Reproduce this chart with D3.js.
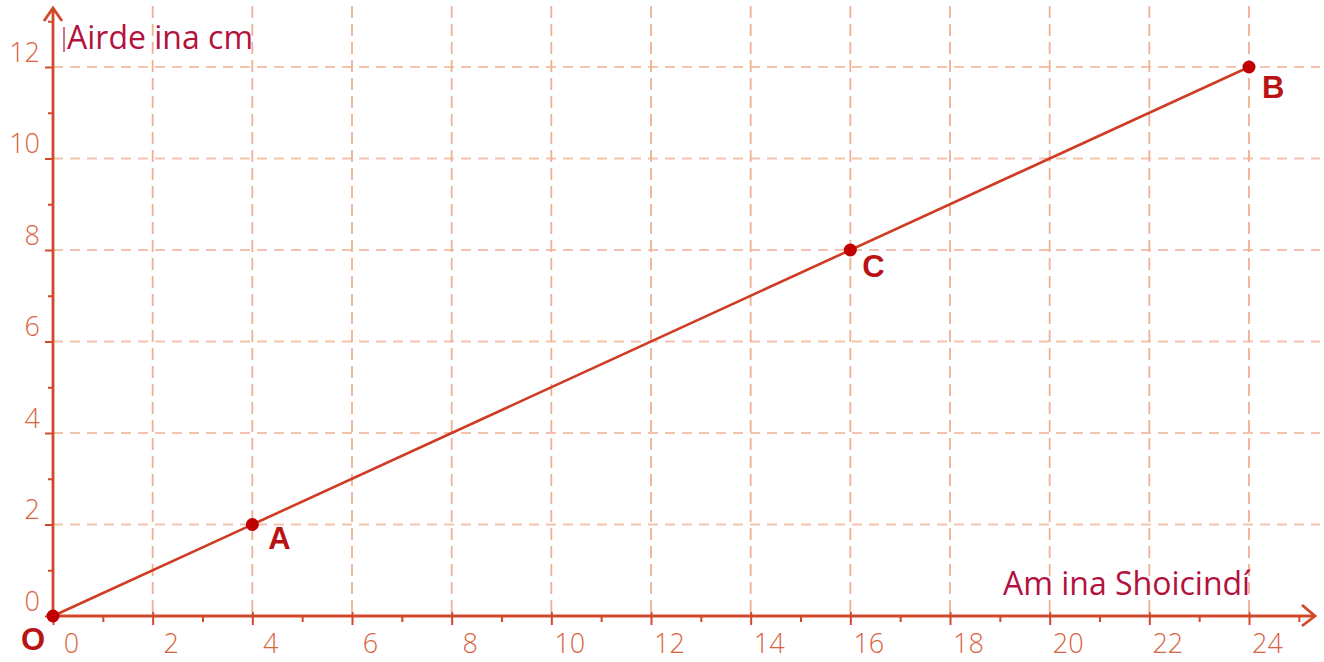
<!DOCTYPE html>
<html>
<head>
<meta charset="utf-8">
<script src="https://cdn.jsdelivr.net/npm/d3@7"></script>
<style>
  html, body { margin: 0; padding: 0; background: #fff; }
  svg { display: block; }
</style>
</head>
<body>
<svg id="chart" width="1324" height="662"></svg>
<script>
// ---- data ----
const xTicks = [0, 2, 4, 6, 8, 10, 12, 14, 16, 18, 20, 22, 24];
const xMinorTicks = [1, 3, 5, 7, 9, 11, 13, 15, 17, 19, 21, 23, 25];
const yTicks = [0, 2, 4, 6, 8, 10, 12];
const yMinorTicks = [1, 3, 5, 7, 9, 11, 13];
const pointNames = ["O", "A", "C", "B"];
const pointX = [0, 4, 16, 24];
const pointY = [0, 2, 8, 12];
const lineX = [0, 24];
const lineY = [0, 12];
const xTitle = "Am ina Shoicindí";
const yTitle = "Airde ina cm";

// ---- style / layout ----
const axisColor = "#d2482a";
const gridColorH = "#f4c3ad";
const gridColorV = "#f0b093";
const tickTextColor = "#d8633f";
const pointColor = "#c00000";
const labelColor = "#b81414";
const titleColor = "#b3123f";
const labelOffsets = { O: [-32, 34], A: [16, 24], C: [12, 27], B: [13, 31] };

const svg = d3.select("#chart");
const x = d3.scaleLinear().domain([0, 24]).range([53, 1249]);
const y = d3.scaleLinear().domain([0, 12]).range([616, 67]);

// grid
const grid = svg.append("g");
grid.selectAll("line.h").data(yTicks.filter(d => d !== 0)).join("line")
  .attr("x1", x(0)).attr("x2", 1320)
  .attr("y1", d => y(d)).attr("y2", d => y(d))
  .attr("stroke", gridColorH).attr("stroke-width", 2)
  .attr("stroke-dasharray", "10,7");
grid.selectAll("line.v").data(xTicks.filter(d => d !== 0)).join("line")
  .attr("x1", d => x(d)).attr("x2", d => x(d))
  .attr("y1", 6).attr("y2", y(0))
  .attr("stroke", gridColorV).attr("stroke-width", 1.8)
  .attr("stroke-dasharray", "12,6");

// axis lines with arrows
svg.append("line").attr("x1", x(0)).attr("x2", 1315).attr("y1", y(0)).attr("y2", y(0))
  .attr("stroke", axisColor).attr("stroke-width", 2.8);
svg.append("path").attr("d", `M1302,605 L1315,${y(0)} L1302,626`)
  .attr("fill", "none").attr("stroke", axisColor).attr("stroke-width", 2.8);
svg.append("line").attr("x1", x(0)).attr("x2", x(0)).attr("y1", y(0)).attr("y2", 8)
  .attr("stroke", axisColor).attr("stroke-width", 2.8);
svg.append("path").attr("d", `M${x(0) - 9},21 L${x(0)},8 L${x(0) + 9},21`)
  .attr("fill", "none").attr("stroke", axisColor).attr("stroke-width", 2.8);

const tickFont = "'Open Sans', 'DejaVu Sans', sans-serif";

// x axis ticks
const gx = svg.append("g").attr("transform", `translate(0,${y(0)})`)
  .call(d3.axisBottom(x).tickValues(xTicks).tickSize(9).tickFormat(d3.format("d")));
gx.select(".domain").remove();
gx.selectAll(".tick line").attr("y1", -4).attr("stroke", axisColor).attr("stroke-width", 2);
gx.selectAll(".tick text").attr("x", 18).attr("y", 37).attr("dy", 0)
  .attr("fill", tickTextColor).style("font-family", tickFont).style("font-size", "27px").style("font-weight", 350);
const gxm = svg.append("g").attr("transform", `translate(0,${y(0)})`)
  .call(d3.axisBottom(x).tickValues(xMinorTicks).tickSize(6).tickFormat(""));
gxm.select(".domain").remove();
gxm.selectAll(".tick line").attr("stroke", axisColor).attr("stroke-width", 2);

// y axis ticks
const gy = svg.append("g").attr("transform", `translate(${x(0)},0)`)
  .call(d3.axisLeft(y).tickValues(yTicks).tickSize(8).tickFormat(d3.format("d")));
gy.select(".domain").remove();
gy.selectAll(".tick line").attr("stroke", axisColor).attr("stroke-width", 2);
gy.selectAll(".tick text").attr("x", -13).attr("y", -6).attr("dy", 0)
  .attr("fill", tickTextColor).style("font-family", tickFont).style("font-size", "27px").style("font-weight", 350);
const gym = svg.append("g").attr("transform", `translate(${x(0)},0)`)
  .call(d3.axisLeft(y).tickValues(yMinorTicks).tickSize(5).tickFormat(""));
gym.select(".domain").remove();
gym.selectAll(".tick line").attr("stroke", axisColor).attr("stroke-width", 2);

// main line
svg.append("line")
  .attr("x1", x(lineX[0])).attr("y1", y(lineY[0]))
  .attr("x2", x(lineX[1])).attr("y2", y(lineY[1]))
  .attr("stroke", "#cf3c24").attr("stroke-width", 2.6);

// points
const pts = pointNames.map((n, i) => ({ n, x: pointX[i], y: pointY[i] }));
svg.selectAll("circle.pt").data(pts).join("circle")
  .attr("cx", d => x(d.x)).attr("cy", d => y(d.y)).attr("r", 6.5)
  .attr("fill", pointColor);
svg.selectAll("text.pl").data(pts).join("text")
  .attr("x", d => x(d.x) + labelOffsets[d.n][0])
  .attr("y", d => y(d.y) + labelOffsets[d.n][1])
  .text(d => d.n)
  .attr("fill", labelColor)
  .style("font-family", "'Liberation Sans', Arial, sans-serif")
  .style("font-weight", "bold").style("font-size", "31px");

// titles
svg.append("line").attr("x1", 64).attr("x2", 64).attr("y1", 27).attr("y2", 52)
  .attr("stroke", titleColor).attr("stroke-width", 1.2);
svg.append("text").attr("x", 67).attr("y", 49).text(yTitle)
  .attr("fill", titleColor).style("font-family", "'Open Sans', 'Noto Sans', sans-serif").style("font-size", "32px");
svg.append("text").attr("x", 1003).attr("y", 595).text(xTitle)
  .attr("fill", titleColor).style("font-family", "'Open Sans', 'Noto Sans', sans-serif").style("font-size", "32px");
</script>
</body>
</html>
